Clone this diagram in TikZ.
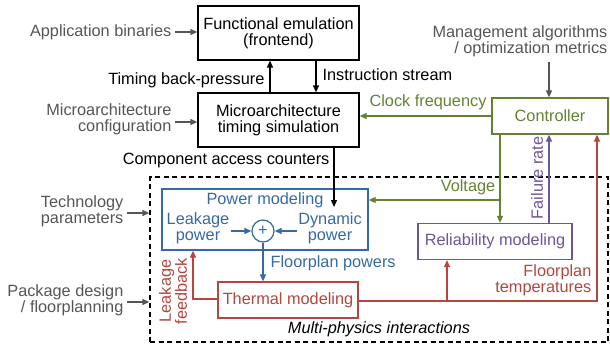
\documentclass[tikz,border=0pt]{standalone}
\usepackage{fontspec}
\setmainfont{Liberation Sans}
\usetikzlibrary{arrows.meta,calc}
\definecolor{cblue}{RGB}{55,105,165}
\definecolor{cgreen}{RGB}{100,130,50}
\definecolor{cpurple}{RGB}{110,85,150}
\definecolor{cred}{RGB}{180,70,60}
\definecolor{cgray}{RGB}{85,85,85}
\tikzset{
  box/.style={draw, rectangle, align=center, inner sep=2pt},
  lbl/.style={align=center, inner sep=1pt},
  ext/.style={text=cgray, align=right, inner sep=1pt},
  extarrow/.style={draw=cgray, ->},
}
\begin{document}
\begin{tikzpicture}[x=1pt,y=-1pt, font=\fontsize{16.3}{16}\selectfont, line width=1.25pt, >={Triangle[length=7pt,width=6pt]}]
\useasboundingbox (0,0) rectangle (610,345);
% main boxes
\node[box, minimum width=161, minimum height=54] (fe) at (278.5,33) {Functional emulation\\(frontend)};
\node[box, minimum width=161, minimum height=54] (ma) at (278.5,120) {Microarchitecture\\timing simulation};
\node[box, draw=cgreen, text=cgreen, minimum width=116, minimum height=36] (ctrl) at (550,116) {Controller};
% multi-physics dashed region
\node[draw, dashed, dash pattern=on 5pt off 3.5pt, rectangle, minimum width=458, minimum height=165] (mp) at (379,259.5) {};
\node[lbl, font=\fontsize{16.3}{16}\selectfont\itshape] (mptext) at (379,329) {Multi-physics interactions};
% power modeling
\node[box, draw=cblue, minimum width=206, minimum height=61] (pow) at (265,219.5) {};
\node[lbl, text=cblue] (powt) at (265,200) {Power modeling};
\node[draw=cblue, circle, minimum size=22, inner sep=0pt, text=cblue] (plus) at (263,231) {+};
\node[lbl, text=cblue] (leak) at (198,228) {Leakage\\power};
\node[lbl, text=cblue] (dyn) at (330,228) {Dynamic\\power};
\node[box, draw=cred, text=cred, minimum width=140, minimum height=36] (therm) at (288,300) {Thermal modeling};
\node[box, draw=cpurple, text=cpurple, minimum width=154, minimum height=36] (rel) at (495,241.5) {Reliability modeling};
% external inputs
\node[ext, anchor=east] (app) at (173,32) {Application binaries};
\node[ext, anchor=east] (mac) at (173,119.5) {Microarchitecture\\configuration};
\node[ext, anchor=east] (tech) at (125,211) {Technology\\parameters};
\node[ext, anchor=east] (pkg) at (125,300) {Package design\\/ floorplanning};
\node[ext, anchor=east] (mgmt) at (609,41) {Management algorithms\\/ optimization metrics};
\draw[extarrow] ([xshift=2pt]app.east) -- (fe.west |- app.east);
\draw[extarrow] ([xshift=2pt]mac.east |- 0,122) -- (ma.west |- 0,122);
\draw[extarrow] ([xshift=2pt]tech.east |- 0,213) -- (mp.west |- 0,213);
\draw[extarrow] ([xshift=2pt]pkg.east |- 0,302) -- (mp.west |- 0,302);
\draw[extarrow] (mgmt.south -| 549,0) ++(0,4) coordinate (mgs) -- (ctrl.north -| mgs);
% frontend <-> timing
\draw[->] (ma.north -| 270,0) -- (fe.south -| 270,0);
\node[lbl, anchor=east] (tbp) at (266,80) {Timing back-pressure};
\draw[->] (fe.south -| 316,0) -- (ma.north -| 316,0);
\node[lbl, anchor=west] (ins) at (321,75) {Instruction stream};
% component access counters
\coordinate (cac) at (334,207);
\draw[->] (ma.south -| cac) -- (cac);
\node[lbl, anchor=east] (cact) at (331,160) {Component access counters};
% clock frequency
\draw[->, draw=cgreen] (ctrl.west) -- (ma.east |- ctrl.west);
\node[lbl, text=cgreen, anchor=south] (clk) at (428,112) {Clock frequency};
% voltage
\coordinate (vbr) at (500,200);
\draw[->, draw=cgreen] (ctrl.south -| vbr) -- (rel.north -| vbr);
\draw[->, draw=cgreen] (vbr) -- (pow.east |- vbr);
\node[lbl, text=cgreen, anchor=south] (volt) at (468,197) {Voltage};
% failure rate
\draw[->, draw=cpurple] (rel.north -| 549,0) -- (ctrl.south -| 549,0);
\node[lbl, text=cpurple, rotate=90] (fr) at (537,178) {Failure rate};
% power internals
\draw[->, draw=cblue] (leak.east |- plus) -- (plus.west);
\draw[->, draw=cblue] (dyn.west |- plus) -- (plus.east);
\draw[->, draw=cblue] (plus.south) -- (therm.north -| plus.south);
\node[lbl, text=cblue, anchor=west] (fpp) at (269,263) {Floorplan powers};
% thermal outputs
\coordinate (tcorner) at (597,301);
\coordinate (tbr) at (447,301);
\draw[->, draw=cred] (therm.east |- tcorner) -- (tcorner) -- (ctrl.south -| tcorner);
\draw[->, draw=cred] (tbr) -- (rel.south -| tbr);
\node[lbl, text=cred, align=right, anchor=east] (fpt) at (593,280) {Floorplan\\temperatures};
\coordinate (lcorner) at (193,299);
\draw[->, draw=cred] (therm.west |- lcorner) -- (lcorner) -- (pow.south -| lcorner);
\node[lbl, text=cred, rotate=90] (lfb) at (173,291) {Leakage\\feedback};
\end{tikzpicture}
\end{document}
